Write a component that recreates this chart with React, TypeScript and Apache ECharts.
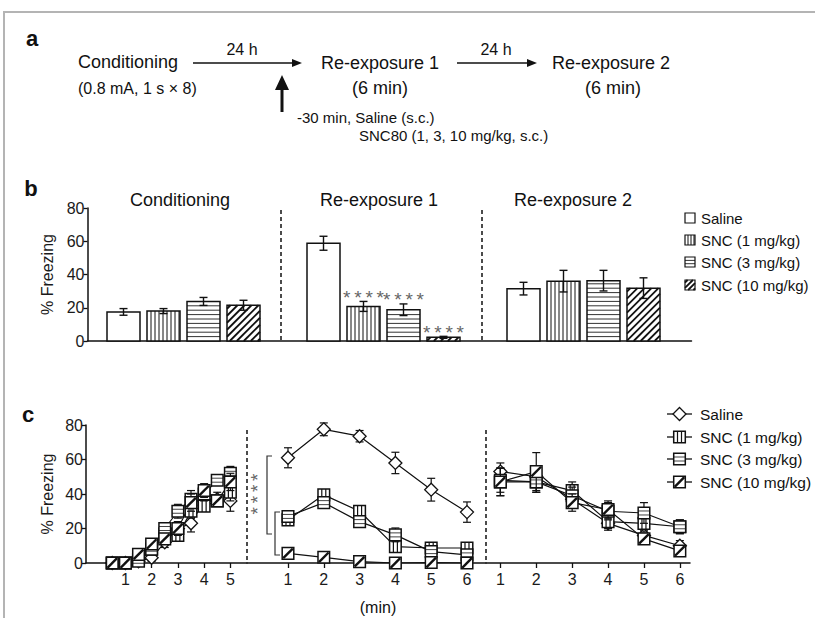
import React, { useEffect, useRef } from "react";
import * as echarts from "echarts";

const FONT = "'Liberation Sans', Arial, Helvetica, sans-serif";
const INK = "#111";

// ---------------- Panel b data (mean % freezing and SEM) ----------------
const phases = ["Conditioning", "Re-exposure 1", "Re-exposure 2"];
const treatments = ["Saline", "SNC (1 mg/kg)", "SNC (3 mg/kg)", "SNC (10 mg/kg)"];
const barSalineMean = [17.5, 58.8, 31.5];
const barSalineErr = [2.0, 4.2, 3.8];
const barSnc1Mean = [18.0, 20.8, 36.0];
const barSnc1Err = [1.5, 3.0, 6.5];
const barSnc3Mean = [23.8, 18.8, 36.3];
const barSnc3Err = [2.4, 3.5, 6.2];
const barSnc10Mean = [21.5, 2.2, 31.8];
const barSnc10Err = [3.0, 0.6, 6.2];
const barSalineSig = ["", "", ""];
const barSnc1Sig = ["", "****", ""];
const barSnc3Sig = ["", "****", ""];
const barSnc10Sig = ["", "****", ""];

// ---------------- Panel c data (time course) ----------------
const condMinutes = [0.5, 1, 1.5, 2, 2.5, 3, 3.5, 4, 4.5, 5];
const condSaline = [0, 0, 1, 3, 12, 20, 23, 36, 37, 36];
const condSalineErr = [0, 0, 1, 2, 3, 4, 5, 5, 4, 6];
const condSnc1 = [0, 0, 2, 8, 17, 16, 30, 33, 36, 41];
const condSnc1Err = [0, 0, 1, 2, 3, 3, 4, 3, 3, 5];
const condSnc3 = [0, 0, 1, 8, 20, 30, 37, 40, 48, 52];
const condSnc3Err = [0, 0, 1, 2, 3, 4, 5, 4, 3, 4];
const condSnc10 = [0, 0, 5, 11, 14, 20, 35, 42, 36, 47];
const condSnc10Err = [0, 0, 1, 2, 3, 4, 5, 4, 3, 5];

const reMinutes = [1, 2, 3, 4, 5, 6];
const re1Saline = [61, 77.5, 73.5, 58, 42.5, 29.5];
const re1SalineErr = [5.8, 3.7, 3.3, 6.2, 6.6, 5.9];
const re1Snc1 = [25, 39.5, 30, 9.5, 8.7, 8.7];
const re1Snc1Err = [2, 3, 3, 3, 2, 2];
const re1Snc3 = [27, 35, 24, 16.3, 6.6, 4.7];
const re1Snc3Err = [3, 3, 3, 4, 2, 2];
const re1Snc10 = [5.6, 3.3, 0.8, 0, 0.3, 0];
const re1Snc10Err = [1, 1, 1, 0.5, 0.5, 0.5];

const re2Saline = [53, 50, 37, 23, 16, 10];
const re2SalineErr = [5, 5, 4, 4, 3, 3];
const re2Snc1 = [47, 47, 42, 24, 23, 21];
const re2Snc1Err = [8, 6, 5, 4, 5, 4];
const re2Snc3 = [48, 47, 39, 30, 29, 21];
const re2Snc3Err = [7, 6, 5, 5, 6, 4];
const re2Snc10 = [47, 53, 35, 31, 14, 7];
const re2Snc10Err = [8, 11, 5, 5, 3, 3];

const condTicks = [1, 2, 3, 4, 5];
const reTicks = [1, 2, 3, 4, 5, 6];

// ---------------- layout ----------------
const KINDS = ["saline", "snc1", "snc3", "snc10"];
const phaseSlotStart = [1, 6, 11];
const BAR_W = 0.825;
const STARS = (s: string) => s.split("").join("\u2009");

const B_GRID = { left: 87.5, top: 208, width: 604, height: 133 };
const C_TOP = 425;
const C_H = 138;
const C_X = [86, 247, 486, 690];

function hatch(kind: string, L: number, T: number, R: number, B: number, step: number) {
  const els: any[] = [];
  if (kind === "snc1") {
    for (let x = L + step; x < R - 0.8; x += step)
      els.push({ type: "line", shape: { x1: x, y1: T, x2: x, y2: B }, style: { stroke: INK, lineWidth: 1 } });
  } else if (kind === "snc3") {
    for (let y = B - step * 1.1; y > T + 0.8; y -= step * 1.1)
      els.push({ type: "line", shape: { x1: L, y1: y, x2: R, y2: y }, style: { stroke: "#333", lineWidth: 1 } });
  } else if (kind === "snc10") {
    const s = step * 1.75;
    for (let c = L + T + s / 2; c < R + B; c += s) {
      const x1 = Math.max(L, c - B);
      const x2 = Math.min(R, c - T);
      if (x2 > x1)
        els.push({ type: "line", shape: { x1, y1: c - x1, x2, y2: c - x2 }, style: { stroke: INK, lineWidth: 1.8 } });
    }
  }
  return els;
}

function marker(kind: string, cx: number, cy: number) {
  if (kind === "saline") {
    const r = 6.5;
    return [
      {
        type: "polygon",
        shape: { points: [[cx, cy - r], [cx + r, cy], [cx, cy + r], [cx - r, cy]] },
        style: { fill: "#fff", stroke: INK, lineWidth: 1.3 },
      },
    ];
  }
  const h = 5.8;
  const L = cx - h, R = cx + h, T = cy - h, B = cy + h;
  const els: any[] = [{ type: "rect", shape: { x: L, y: T, width: 2 * h, height: 2 * h }, style: { fill: "#fff" } }];
  if (kind === "snc1") {
    [cx - 2, cx + 2].forEach((x) =>
      els.push({ type: "line", shape: { x1: x, y1: T, x2: x, y2: B }, style: { stroke: INK, lineWidth: 1.2 } })
    );
  } else if (kind === "snc3") {
    [cy - 2, cy + 2].forEach((y) =>
      els.push({ type: "line", shape: { x1: L, y1: y, x2: R, y2: y }, style: { stroke: "#444", lineWidth: 1 } })
    );
  } else {
    els.push({ type: "line", shape: { x1: L + 1, y1: B - 1, x2: R - 1, y2: T + 1 }, style: { stroke: INK, lineWidth: 2.4 } });
  }
  els.push({ type: "rect", shape: { x: L, y: T, width: 2 * h, height: 2 * h }, style: { fill: "none", stroke: INK, lineWidth: 1.5 } });
  return els;
}

function errorBar(x: number, y1: number, y2: number, cap: number, lw: number) {
  return [
    { type: "line", shape: { x1: x, y1, x2: x, y2 }, style: { stroke: INK, lineWidth: lw } },
    { type: "line", shape: { x1: x - cap, y1, x2: x + cap, y2: y1 }, style: { stroke: INK, lineWidth: lw } },
    { type: "line", shape: { x1: x - cap, y1: y2, x2: x + cap, y2 }, style: { stroke: INK, lineWidth: lw } },
  ];
}

const barMeans = [barSalineMean, barSnc1Mean, barSnc3Mean, barSnc10Mean];
const barErrs = [barSalineErr, barSnc1Err, barSnc3Err, barSnc10Err];
const barSigs = [barSalineSig, barSnc1Sig, barSnc3Sig, barSnc10Sig];

const barSeries = treatments.map((name, t) => ({
  type: "custom",
  name,
  xAxisIndex: 0,
  yAxisIndex: 0,
  z: 3,
  encode: { x: 0, y: 1 },
  data: barMeans[t].map((m, p) => [phaseSlotStart[p] + t, m, barErrs[t][p]]),
  renderItem: (params: any, api: any) => {
    const x = api.value(0), y = api.value(1), e = api.value(2);
    const hw = api.size([BAR_W, 0])[0] / 2;
    const base = api.coord([x, 0]);
    const top = api.coord([x, y]);
    const L = base[0] - hw, R = base[0] + hw, T = top[1], B = base[1];
    const children: any[] = [
      { type: "rect", shape: { x: L, y: T, width: R - L, height: B - T }, style: { fill: "#fff" } },
      ...hatch(KINDS[t], L, T, R, B, 4),
      { type: "rect", shape: { x: L, y: T, width: R - L, height: B - T }, style: { fill: "none", stroke: INK, lineWidth: 1.5 } },
    ];
    const et = api.coord([x, y + e])[1];
    const eb = api.coord([x, Math.max(0, y - e)])[1];
    children.push(...errorBar(base[0], et, eb, 4, 1.4));
    const sig = barSigs[t][params.dataIndex];
    if (sig) {
      children.push({
        type: "text",
        style: {
          text: STARS(sig),
          x: base[0],
          y: et - 4,
          textAlign: "center",
          textVerticalAlign: "middle",
          align: "center",
          verticalAlign: "middle",
          font: `19px ${FONT}`,
          fill: "#666",
        },
      });
    }
    return { type: "group", children };
  },
}));

const sections = [
  {
    axis: 1,
    minutes: condMinutes,
    means: [condSaline, condSnc1, condSnc3, condSnc10],
    errs: [condSalineErr, condSnc1Err, condSnc3Err, condSnc10Err],
  },
  {
    axis: 2,
    minutes: reMinutes,
    means: [re1Saline, re1Snc1, re1Snc3, re1Snc10],
    errs: [re1SalineErr, re1Snc1Err, re1Snc3Err, re1Snc10Err],
  },
  {
    axis: 3,
    minutes: reMinutes,
    means: [re2Saline, re2Snc1, re2Snc3, re2Snc10],
    errs: [re2SalineErr, re2Snc1Err, re2Snc3Err, re2Snc10Err],
  },
];

const lineSeries: any[] = [];
const markerSeries: any[] = [];
sections.forEach((sec) => {
  treatments.forEach((name, t) => {
    lineSeries.push({
      type: "line",
      name,
      xAxisIndex: sec.axis,
      yAxisIndex: sec.axis,
      z: 2,
      symbol: "none",
      lineStyle: { color: INK, width: 1.2 },
      data: sec.minutes.map((m, i) => [m, sec.means[t][i]]),
    });
    markerSeries.push({
      type: "custom",
      name,
      xAxisIndex: sec.axis,
      yAxisIndex: sec.axis,
      z: 3 + t,
      encode: { x: 0, y: 1 },
      data: sec.minutes.map((m, i) => [m, sec.means[t][i], sec.errs[t][i]]),
      renderItem: (params: any, api: any) => {
        const x = api.value(0), y = api.value(1), e = api.value(2);
        const p = api.coord([x, y]);
        const children: any[] = [];
        if (e > 0) {
          const et = api.coord([x, y + e])[1];
          const eb = api.coord([x, y - e])[1];
          children.push(...errorBar(p[0], et, eb, 4, 1.2));
        }
        children.push(...marker(KINDS[t], p[0], p[1]));
        return { type: "group", children };
      },
    });
  });
});

function txt(text: string, x: number, y: number, size: number, align = "left", extra: any = {}) {
  const { bold, fill, ...rest } = extra;
  return {
    type: "text",
    x,
    y,
    silent: true,
    ...rest,
    style: {
      text,
      font: `${bold ? "bold " : ""}${size}px ${FONT}`,
      fill: fill || INK,
      textAlign: align,
      textVerticalAlign: "middle",
      align,
      verticalAlign: "middle",
    },
  };
}

function hline(x1: number, y1: number, x2: number, y2: number, lw: number, dash?: number[], color = INK) {
  return {
    type: "line",
    silent: true,
    shape: { x1, y1, x2, y2 },
    style: { stroke: color, lineWidth: lw, lineDash: dash },
  };
}

const graphics: any[] = [
  {
    type: "rect",
    silent: true,
    shape: { x: 4, y: 12, width: 830, height: 640 },
    style: { fill: "none", stroke: "#b4b4b4", lineWidth: 2 },
  },
  // panel a
  txt("a", 32, 38, 22, "center", { bold: true }),
  txt("Conditioning", 78, 62, 18),
  txt("(0.8 mA, 1 s × 8)", 78, 88, 16),
  hline(193, 63, 296, 63, 1.3),
  { type: "polygon", silent: true, shape: { points: [[302, 63], [292, 59], [292, 67]] }, style: { fill: INK } },
  txt("24 h", 242, 49, 16, "center"),
  hline(282, 112, 282, 88, 3),
  { type: "polygon", silent: true, shape: { points: [[282, 75], [275, 90], [289, 90]] }, style: { fill: INK } },
  txt("Re-exposure 1", 380, 63, 18, "center"),
  txt("(6 min)", 380, 88, 18, "center"),
  txt("-30 min, Saline (s.c.)", 297, 117, 15),
  txt("SNC80 (1, 3, 10 mg/kg, s.c.)", 359, 135, 15),
  hline(457, 63, 531, 63, 1.3),
  { type: "polygon", silent: true, shape: { points: [[537, 63], [527, 59], [527, 67]] }, style: { fill: INK } },
  txt("24 h", 496, 49, 16, "center"),
  txt("Re-exposure 2", 552, 63, 18),
  txt("(6 min)", 613, 88, 18, "center"),
  // panel b
  txt("b", 31, 188, 22, "center", { bold: true }),
  txt(phases[0], 180, 200, 18, "center"),
  txt(phases[1], 379, 200, 18, "center"),
  txt(phases[2], 573, 200, 18, "center"),
  hline(281, 210, 281, 341, 1.5, [4, 3]),
  hline(482, 210, 482, 341, 1.5, [4, 3]),
  // panel c
  txt("c", 28, 414, 22, "center", { bold: true }),
  hline(C_X[1], 430, C_X[1], C_TOP + C_H, 1.5, [4, 3]),
  hline(C_X[2], 430, C_X[2], C_TOP + C_H, 1.5, [4, 3]),
  {
    type: "polyline",
    silent: true,
    shape: { points: [[272, 456], [267, 456], [267, 534], [272, 534]] },
    style: { stroke: "#333", lineWidth: 1.2, fill: "none" },
  },
  {
    type: "polyline",
    silent: true,
    shape: { points: [[280, 512], [275, 512], [275, 555], [280, 555]] },
    style: { stroke: "#333", lineWidth: 1.2, fill: "none" },
  },
  txt(STARS("****"), 257, 494, 19, "center", { rotation: Math.PI / 2, fill: "#666" }),
  txt("(min)", 378, 607, 16, "center"),
];

// legend b
const legBY = [218, 240, 262, 285];
treatments.forEach((name, t) => {
  const y = legBY[t];
  const L = 685, T = y - 5, R = 695, B = y + 5;
  graphics.push({ type: "rect", silent: true, shape: { x: L, y: T, width: 10, height: 10 }, style: { fill: "#fff" } });
  hatch(KINDS[t], L, T, R, B, 3).forEach((e) => graphics.push({ ...e, silent: true }));
  graphics.push({
    type: "rect",
    silent: true,
    shape: { x: L, y: T, width: 10, height: 10 },
    style: { fill: "none", stroke: INK, lineWidth: 1.2 },
  });
  graphics.push(txt(name, 701, y, 15));
});

// legend c
const legCY = [414, 437, 459, 482];
treatments.forEach((name, t) => {
  const y = legCY[t];
  graphics.push(hline(667, y, 692, y, 1.3));
  marker(KINDS[t], 679.5, y).forEach((e) => graphics.push({ ...e, silent: true }));
  graphics.push(txt(name, 700, y, 15.5));
});

const axisLine = { show: true, onZero: false, lineStyle: { color: INK, width: 1.5 } };

function yAxisVisible(gridIndex: number) {
  return {
    type: "value",
    gridIndex,
    min: 0,
    max: 80,
    interval: 20,
    axisLine,
    axisTick: { show: true, length: 4, lineStyle: { color: INK, width: 1.3 } },
    axisLabel: { show: true, color: "#1a1a1a", fontFamily: FONT, fontSize: 16, margin: 3 },
    splitLine: { show: false },
    name: "% Freezing",
    nameLocation: "middle",
    nameRotate: 90,
    nameGap: 31,
    nameTextStyle: { color: "#1a1a1a", fontFamily: FONT, fontSize: 16 },
  };
}
function yAxisHidden(gridIndex: number) {
  return { type: "value", gridIndex, min: 0, max: 80, show: false, splitLine: { show: false } };
}
function xAxisMin(gridIndex: number, min: number, max: number, ticks: number[]) {
  return {
    type: "value",
    gridIndex,
    min,
    max,
    axisLine,
    axisTick: { show: true, length: 5, lineStyle: { color: INK, width: 1.3 }, customValues: ticks },
    axisLabel: { show: true, color: "#1a1a1a", fontFamily: FONT, fontSize: 16, margin: 8, customValues: ticks },
    splitLine: { show: false },
  };
}

const option: any = {
  animation: false,
  backgroundColor: "#fff",
  textStyle: { fontFamily: FONT, fontSize: 16 },
  grid: [
    { ...B_GRID, containLabel: false },
    { left: C_X[0], top: C_TOP, width: C_X[1] - C_X[0], height: C_H },
    { left: C_X[1], top: C_TOP, width: C_X[2] - C_X[1], height: C_H },
    { left: C_X[2], top: C_TOP, width: C_X[3] - C_X[2], height: C_H },
  ],
  xAxis: [
    {
      type: "value",
      gridIndex: 0,
      min: 0.1,
      max: 15.2,
      axisLine,
      axisTick: { show: false },
      axisLabel: { show: false },
      splitLine: { show: false },
    },
    xAxisMin(1, -0.5, -0.5 + 161 / 26.25, condTicks),
    xAxisMin(2, -0.145, -0.145 + 239 / 35.8, reTicks),
    xAxisMin(3, 0.6, 0.6 + 204 / 35.9, reTicks),
  ],
  yAxis: [yAxisVisible(0), yAxisVisible(1), yAxisHidden(2), yAxisHidden(3)],
  series: [...barSeries, ...lineSeries, ...markerSeries],
  graphic: { elements: graphics },
};

export default function App() {
  const ref = useRef<HTMLDivElement>(null);
  useEffect(() => {
    const chart = echarts.init(ref.current!, null, { renderer: "svg", width: 815, height: 618 });
    chart.setOption(option);
    return () => chart.dispose();
  }, []);
  return (
    <div
      ref={ref}
      style={{ position: "absolute", left: 0, top: 0, width: 815, height: 618, background: "#fff" }}
    />
  );
}
